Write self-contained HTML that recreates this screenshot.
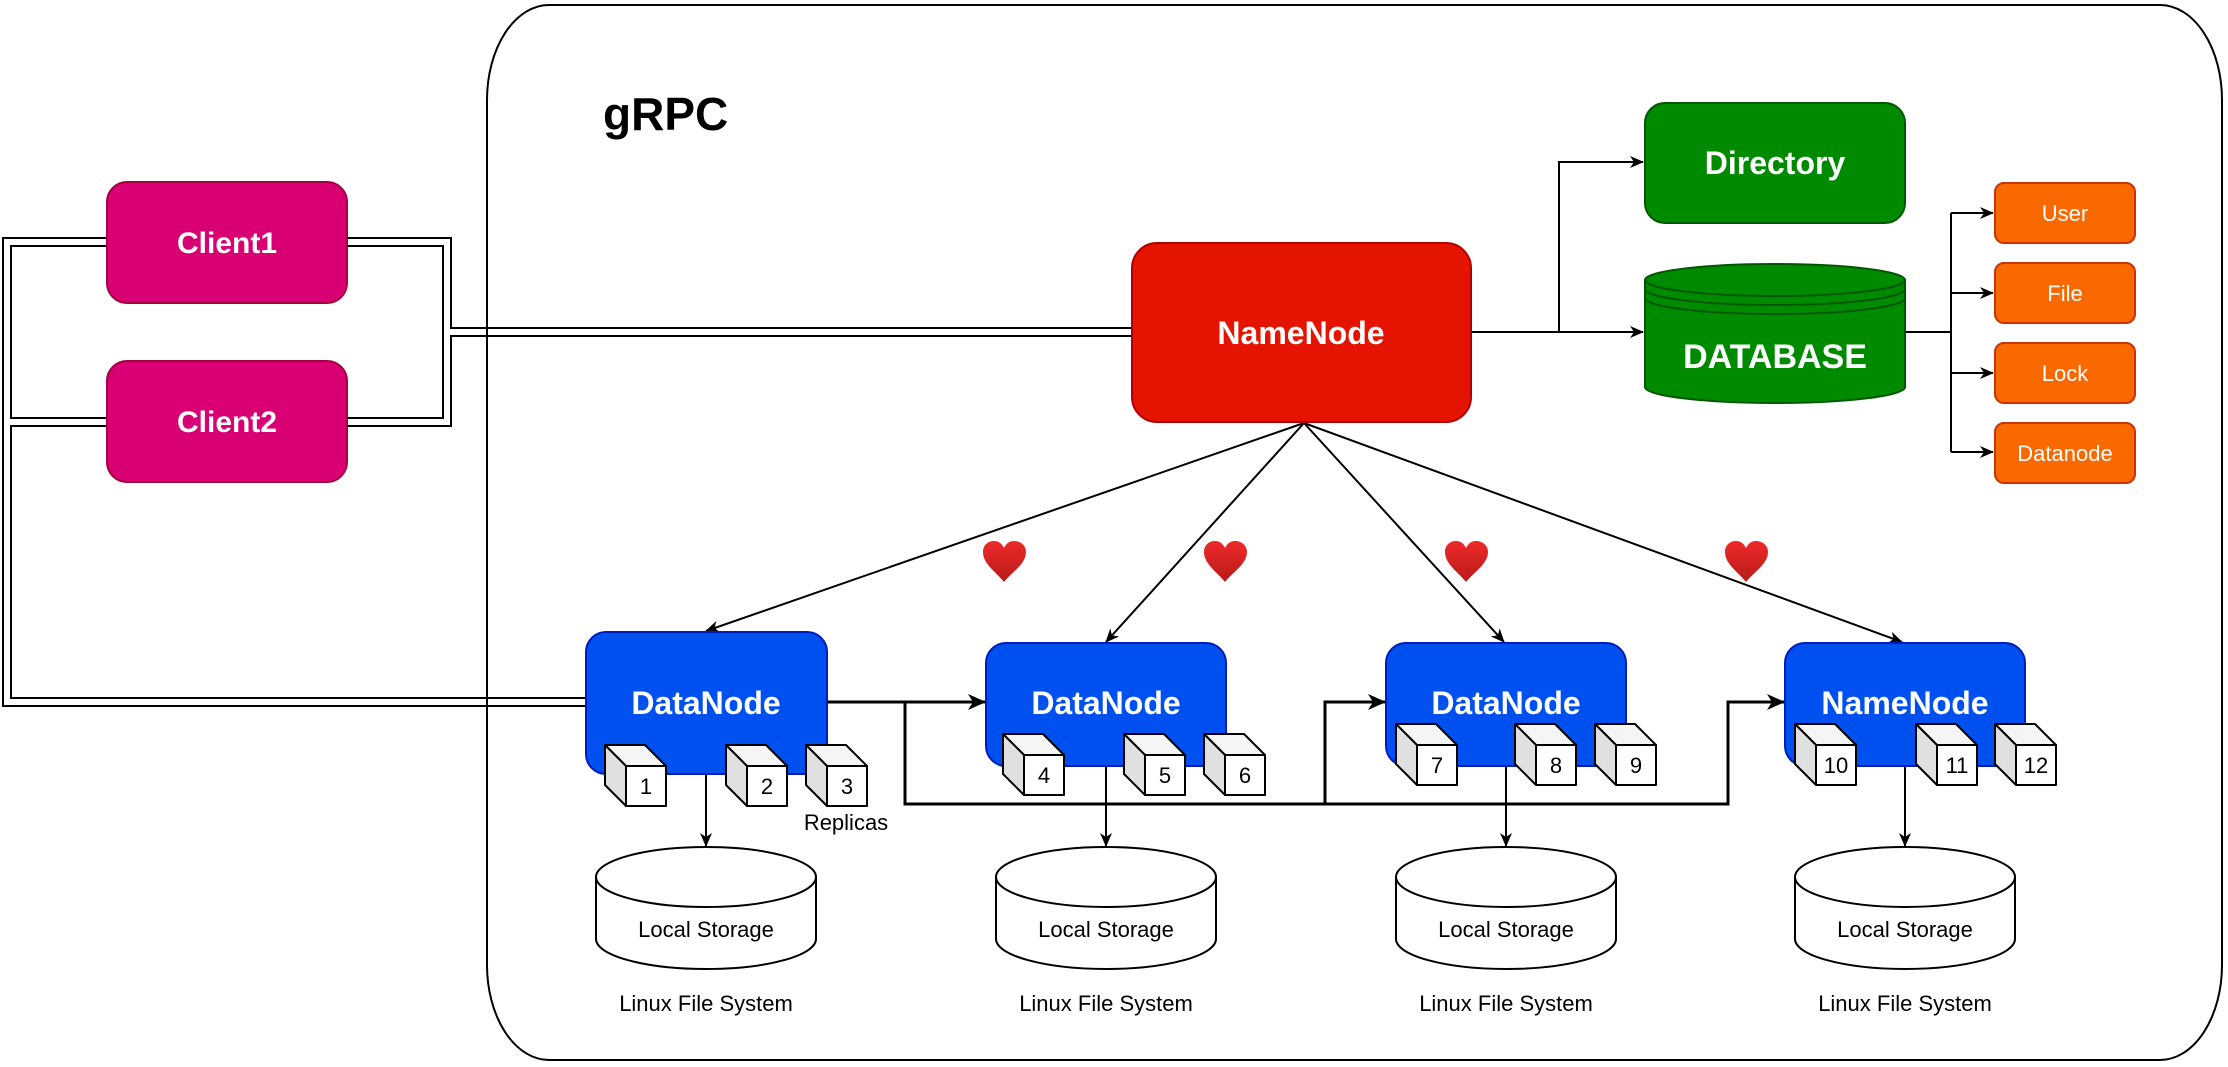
<!DOCTYPE html>
<html><head><meta charset="utf-8"><style>
html,body{margin:0;padding:0;background:#fff;}
svg{display:block;}
text{font-family:"Liberation Sans",Arial,sans-serif;}
</style></head><body>
<svg width="2228" height="1067" viewBox="0 0 2228 1067" xmlns="http://www.w3.org/2000/svg">
<defs>
<marker id="ar" markerWidth="14" markerHeight="12" refX="13" refY="6" orient="auto" markerUnits="userSpaceOnUse">
<path d="M0,0 L14,6 L0,12 L4,6 Z" fill="#000"/>
</marker>
<marker id="ar2" markerWidth="18" markerHeight="16" refX="17" refY="8" orient="auto" markerUnits="userSpaceOnUse">
<path d="M0,0 L18,8 L0,16 L5,8 Z" fill="#000"/>
</marker>
<linearGradient id="hg" x1="0" y1="0" x2="0" y2="1"><stop offset="0" stop-color="#ee2a2a"/><stop offset="1" stop-color="#b81a1a"/></linearGradient>
</defs>
<rect x="487" y="5" width="1735" height="1055" rx="62" ry="95" fill="#fff" stroke="#000" stroke-width="2"/>
<text x="603" y="130" font-size="46" font-weight="bold">gRPC</text>

<g fill="none" stroke-linejoin="miter">
<g stroke="#000" stroke-width="10">
<polyline points="347,242 447,242 447,332 1132,332"/>
<polyline points="347,422 447,422 447,332 1132,332"/>
<polyline points="107,242 7,242 7,702 586,702"/>
<polyline points="107,422 7,422 7,702 586,702"/>
</g>
<g stroke="#fff" stroke-width="6">
<polyline points="347,242 447,242 447,332 1132,332"/>
<polyline points="347,422 447,422 447,332 1132,332"/>
<polyline points="107,242 7,242 7,702 586,702"/>
<polyline points="107,422 7,422 7,702 586,702"/>
</g>
</g>
<line x1="487" y1="140" x2="487" y2="930" stroke="#000" stroke-width="2"/>

<rect x="107" y="182" width="240" height="121" rx="20" fill="#d80073" stroke="#a50040" stroke-width="2"/>
<text x="227" y="253" font-size="30" font-weight="bold" fill="#fff" text-anchor="middle">Client1</text>
<rect x="107" y="361" width="240" height="121" rx="20" fill="#d80073" stroke="#a50040" stroke-width="2"/>
<text x="227" y="432" font-size="30" font-weight="bold" fill="#fff" text-anchor="middle">Client2</text>

<g stroke="#000" stroke-width="2" fill="none">
<polyline points="1471,332 1559,332 1559,162 1643,162" marker-end="url(#ar)"/>
<line x1="1559" y1="332" x2="1643" y2="332" marker-end="url(#ar)"/>
<polyline points="1905,332 1951,332"/>
<line x1="1951" y1="213" x2="1951" y2="452"/>
<line x1="1951" y1="213" x2="1993" y2="213" marker-end="url(#ar)"/>
<line x1="1951" y1="293" x2="1993" y2="293" marker-end="url(#ar)"/>
<line x1="1951" y1="373" x2="1993" y2="373" marker-end="url(#ar)"/>
<line x1="1951" y1="452" x2="1993" y2="452" marker-end="url(#ar)"/>
<line x1="1304" y1="423" x2="706" y2="631" marker-end="url(#ar)"/>
<line x1="1304" y1="423" x2="1106" y2="642" marker-end="url(#ar)"/>
<line x1="1304" y1="423" x2="1504" y2="642" marker-end="url(#ar)"/>
<line x1="1304" y1="423" x2="1902" y2="642" marker-end="url(#ar)"/>
<line x1="827" y1="702" x2="985" y2="702" stroke-width="3" marker-end="url(#ar2)"/>
<polyline points="905,702 905,804 1728,804 1728,702 1784,702" stroke-width="3" marker-end="url(#ar2)"/>
<polyline points="1325,804 1325,702 1385,702" stroke-width="3" marker-end="url(#ar2)"/>
<line x1="706" y1="770" x2="706" y2="846" marker-end="url(#ar)"/>
<line x1="1106" y1="766" x2="1106" y2="846" marker-end="url(#ar)"/>
<line x1="1506" y1="766" x2="1506" y2="846" marker-end="url(#ar)"/>
<line x1="1905" y1="766" x2="1905" y2="846" marker-end="url(#ar)"/>
</g>

<rect x="1132" y="243" width="339" height="179" rx="25" fill="#e51400" stroke="#b20000" stroke-width="2"/>
<text x="1301" y="344" font-size="32" font-weight="bold" fill="#fff" text-anchor="middle">NameNode</text>
<rect x="1645" y="103" width="260" height="120" rx="20" fill="#008a00" stroke="#005700" stroke-width="2"/>
<text x="1775" y="174" font-size="32" font-weight="bold" fill="#fff" text-anchor="middle">Directory</text>
<path d="M1645,280 A130,16 0 0 1 1905,280 L1905,387 A130,16 0 0 1 1645,387 Z" fill="#008a00" stroke="#005700" stroke-width="2"/>
<g fill="none" stroke="#005700" stroke-width="2">
<path d="M1645,280 A130,16 0 0 0 1905,280"/>
<path d="M1645,289 A130,16 0 0 0 1905,289"/>
<path d="M1645,298 A130,16 0 0 0 1905,298"/>
</g>
<text x="1775" y="368" font-size="34" font-weight="bold" fill="#fff" text-anchor="middle">DATABASE</text>
<g fill="#fa6800" stroke="#c73500" stroke-width="2">
<rect x="1995" y="183" width="140" height="60" rx="9"/>
<rect x="1995" y="263" width="140" height="60" rx="9"/>
<rect x="1995" y="343" width="140" height="60" rx="9"/>
<rect x="1995" y="423" width="140" height="60" rx="9"/>
</g>
<g font-size="22" fill="#fff" text-anchor="middle">
<text x="2065" y="221">User</text>
<text x="2065" y="301">File</text>
<text x="2065" y="381">Lock</text>
<text x="2065" y="461">Datanode</text>
</g>

<g fill="url(#hg)">
<path id="h" d="M1004,582 C996,572 983,564 983,552 C983,545 988,541 994,541 C999,541 1002,544 1004,548 C1006,544 1009,541 1014,541 C1020,541 1026,545 1026,552 C1026,564 1012,572 1004,582 Z"/>
<use href="#h" x="221"/>
<use href="#h" x="462"/>
<use href="#h" x="742"/>
</g>

<g fill="#0050ef" stroke="#001dbc" stroke-width="2">
<rect x="586" y="632" width="241" height="142" rx="20"/>
<rect x="986" y="643" width="240" height="123" rx="20"/>
<rect x="1386" y="643" width="240" height="123" rx="20"/>
<rect x="1785" y="643" width="240" height="123" rx="20"/>
</g>
<g font-size="32" font-weight="bold" fill="#fff" text-anchor="middle">
<text x="706" y="714">DataNode</text>
<text x="1106" y="714">DataNode</text>
<text x="1506" y="714">DataNode</text>
<text x="1905" y="714">NameNode</text>
</g>

<g stroke="#000" stroke-width="2" stroke-linejoin="round">
<g id="c1" transform="translate(605,745)">
<path d="M0,0 L40,0 L61,21 L21,21 Z" fill="#f5f5f5"/>
<path d="M0,0 L21,21 L21,61 L0,40 Z" fill="#e0e0e0"/>
<rect x="21" y="21" width="40" height="40" fill="#fff"/>
</g>
<use href="#c1" x="121" y="0"/>
<use href="#c1" x="201" y="0"/>
<use href="#c1" x="398" y="-11"/>
<use href="#c1" x="519" y="-11"/>
<use href="#c1" x="599" y="-11"/>
<use href="#c1" x="791" y="-21"/>
<use href="#c1" x="910" y="-21"/>
<use href="#c1" x="990" y="-21"/>
<use href="#c1" x="1190" y="-21"/>
<use href="#c1" x="1311" y="-21"/>
<use href="#c1" x="1390" y="-21"/>
</g>
<g font-size="22" text-anchor="middle">
<text x="646" y="794">1</text><text x="767" y="794">2</text><text x="847" y="794">3</text>
<text x="1044" y="783">4</text><text x="1165" y="783">5</text><text x="1245" y="783">6</text>
<text x="1437" y="773">7</text><text x="1556" y="773">8</text><text x="1636" y="773">9</text>
<text x="1836" y="773">10</text><text x="1957" y="773">11</text><text x="2036" y="773">12</text>
</g>
<text x="846" y="830" font-size="22" text-anchor="middle">Replicas</text>

<g id="st">
<path d="M596,877 A110,30 0 0 1 816,877 L816,939 A110,30 0 0 1 596,939 Z" fill="#fff" stroke="#000" stroke-width="2"/>
<path d="M596,877 A110,30 0 0 0 816,877" fill="none" stroke="#000" stroke-width="2"/>
<text x="706" y="937" font-size="22" text-anchor="middle">Local Storage</text>
<text x="706" y="1011" font-size="22" text-anchor="middle">Linux File System</text>
</g>
<use href="#st" x="400"/>
<use href="#st" x="800"/>
<use href="#st" x="1199"/>
</svg>
</body></html>
